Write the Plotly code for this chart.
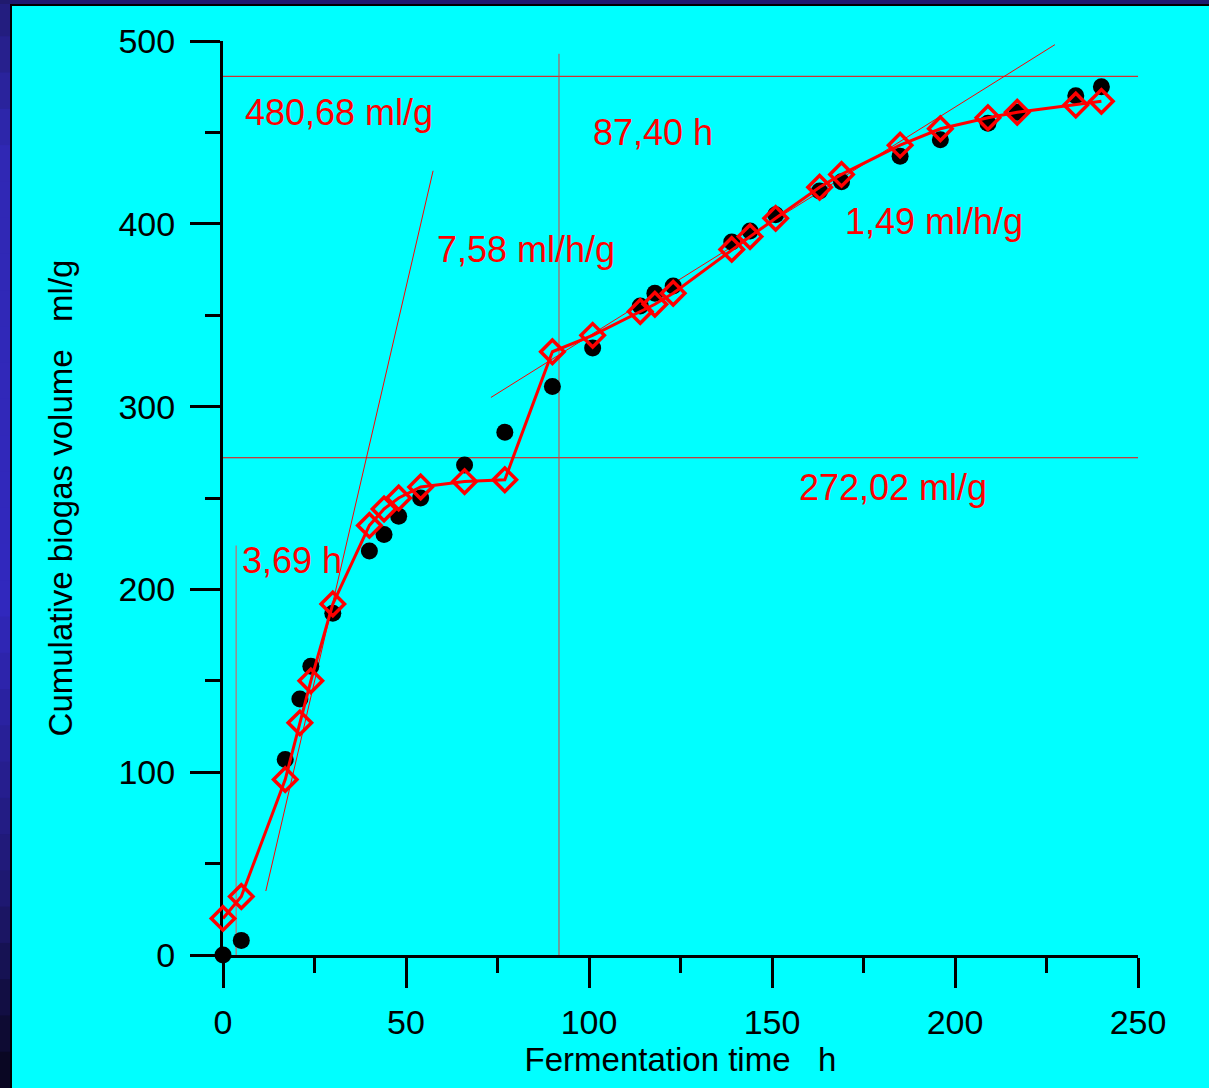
import plotly.graph_objects as go

# ---- data ----
meas_t = [0, 5, 17, 21, 24, 30, 40, 44, 48, 54, 66, 77, 90, 101, 114, 118, 123,
          139, 144, 151, 163, 169, 185, 196, 209, 217, 233, 240]
meas_v = [0, 8, 107, 140, 158, 187, 221, 230, 240, 250, 268, 286, 311, 332, 355, 362, 366,
          390, 396, 405, 418, 423, 437, 446, 455, 461, 470, 475]

model_t = [0, 5, 17, 21, 24, 30, 40, 44, 48, 54, 66, 77, 90, 101, 114, 118, 123,
           139, 144, 151, 163, 169, 185, 196, 209, 217, 233, 240]
model_v = [20, 32, 96, 127, 150, 192, 235, 244, 250, 256, 259, 260, 330, 339, 352, 356, 362,
           386, 393, 403, 420, 427, 443, 452, 458, 461, 465, 467]

# reference/tangent lines (data coords)
h_lines = [480.68, 272.02]
lag1_t = 3.6
lag1_top = 224
lag2_t = 91.8
lag2_top = 493
tan1_t = [11.7, 57.4]
tan1_v = [35, 429]
tan2_t = [73.2, 227.3]
tan2_v = [305, 498]

labels = [
    ("480,68 ml/g", 5.5, 461),
    ("87,40 h", 100.5, 450),
    ("7,58 ml/h/g", 57.9, 386),
    ("1,49 ml/h/g", 169.4, 401),
    ("272,02 ml/g", 156.8, 255.5),
    ("3,69 h", 4.6, 216),
]

RED = "#ff0000"
FONT = "Liberation Sans, Arial, sans-serif"

fig = go.Figure()

# thin reference lines
for hv in h_lines:
    fig.add_trace(go.Scatter(x=[0, 250], y=[hv, hv], mode="lines",
                             line=dict(color=RED, width=1), hoverinfo="skip", cliponaxis=False))
fig.add_trace(go.Scatter(x=[lag1_t, lag1_t], y=[0, lag1_top], mode="lines",
                         line=dict(color="#a08888", width=1.5), hoverinfo="skip"))
fig.add_trace(go.Scatter(x=[lag2_t, lag2_t], y=[0, lag2_top], mode="lines",
                         line=dict(color="#d04040", width=1), hoverinfo="skip"))
fig.add_trace(go.Scatter(x=tan1_t, y=tan1_v, mode="lines",
                         line=dict(color=RED, width=1), hoverinfo="skip"))
fig.add_trace(go.Scatter(x=tan2_t, y=tan2_v, mode="lines",
                         line=dict(color=RED, width=1), hoverinfo="skip"))

# measured data
fig.add_trace(go.Scatter(x=meas_t, y=meas_v, mode="markers",
                         marker=dict(symbol="circle", size=17, color="black"),
                         cliponaxis=False))
# model
fig.add_trace(go.Scatter(x=model_t, y=model_v, mode="lines+markers",
                         line=dict(color=RED, width=3),
                         marker=dict(symbol="diamond-open", size=18, color=RED,
                                     line=dict(color=RED, width=3.5)),
                         cliponaxis=False))

for txt, lx, ly in labels:
    fig.add_annotation(x=lx, y=ly, text=txt, showarrow=False, xanchor="left", yanchor="middle",
                       font=dict(family=FONT, size=36, color=RED))

# frame / border shapes
L, R, T, B = 223, 71, 41, 133
PW, PH = 1209 - L - R, 1088 - T - B


def px_x(px):
    return (px - L) / PW


def px_y(py):
    return (1088 - B - py) / PH


stops = [(0, (34, 28, 120)), (150, (48, 40, 180)), (600, (50, 40, 190)),
         (900, (30, 24, 110)), (1088, (8, 6, 28))]


def col_at(y):
    for (y0, c0), (y1, c1) in zip(stops[:-1], stops[1:]):
        if y0 <= y <= y1:
            f = (y - y0) / (y1 - y0)
            return "rgb(%d,%d,%d)" % tuple(int(c0[i] + f * (c1[i] - c0[i])) for i in range(3))
    return "rgb(8,6,28)"


nseg = 30
for i in range(nseg):
    y0 = 1088 * i / nseg
    y1 = 1088 * (i + 1) / nseg
    fig.add_shape(type="rect", xref="paper", yref="paper",
                  x0=px_x(0), x1=px_x(10), y0=px_y(y1 + 1), y1=px_y(y0),
                  fillcolor=col_at((y0 + y1) / 2), line=dict(width=0), layer="below")
fig.add_shape(type="rect", xref="paper", yref="paper",
              x0=px_x(0), x1=px_x(1209), y0=px_y(4), y1=px_y(0),
              fillcolor="rgb(32,26,110)", line=dict(width=0), layer="below")
fig.add_shape(type="rect", xref="paper", yref="paper",
              x0=px_x(10), x1=px_x(12), y0=px_y(1088), y1=px_y(4),
              fillcolor="black", line=dict(width=0), layer="below")
fig.add_shape(type="rect", xref="paper", yref="paper",
              x0=px_x(10), x1=px_x(1209), y0=px_y(6), y1=px_y(4),
              fillcolor="black", line=dict(width=0), layer="below")

axis_common = dict(showline=True, linecolor="black", linewidth=3, showgrid=False, zeroline=False,
                   ticks="outside", ticklen=30, tickwidth=3, tickcolor="black",
                   tickfont=dict(family=FONT, size=34, color="black"),
                   layer="below traces")

fig.update_xaxes(range=[0, 250], dtick=50, tick0=0, ticklabelstandoff=5,
                 minor=dict(dtick=25, ticklen=15, tickwidth=3, tickcolor="black", ticks="outside"),
                 title=dict(text="Fermentation time   h", font=dict(family=FONT, size=33, color="black"),
                            standoff=9),
                 **axis_common)
fig.update_yaxes(range=[0, 500], dtick=100, tick0=0, ticklabelstandoff=8,
                 minor=dict(dtick=50, ticklen=15, tickwidth=3, tickcolor="black", ticks="outside"),
                 title=dict(text="Cumulative biogas volume   ml/g",
                            font=dict(family=FONT, size=33, color="black"), standoff=36),
                 **axis_common)

fig.update_layout(width=1209, height=1088, margin=dict(l=L, r=R, t=T, b=B, autoexpand=False),
                  paper_bgcolor="#00ffff", plot_bgcolor="#00ffff", showlegend=False)

fig.write_html("out.html")
